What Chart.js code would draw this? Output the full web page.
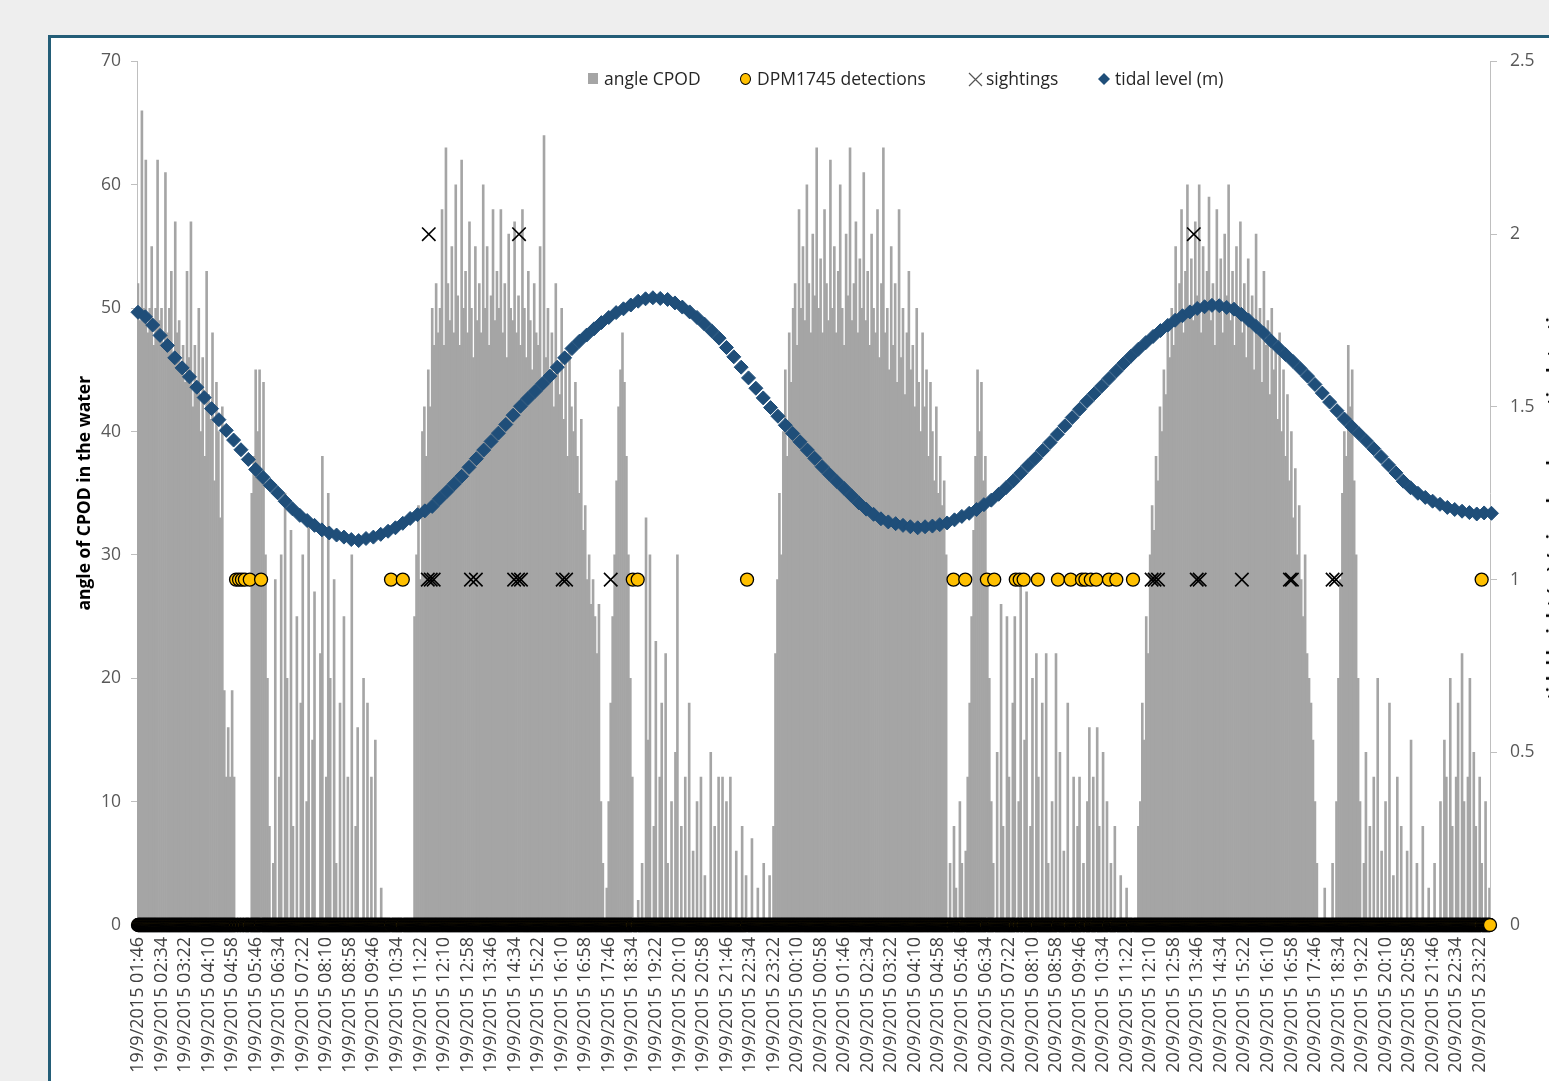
<!DOCTYPE html>
<html><head><meta charset="utf-8">
<script src="https://cdn.jsdelivr.net/npm/chart.js@4.4.1/dist/chart.umd.min.js"></script>
<style>
html,body{margin:0;padding:0;}
body{width:1549px;height:1081px;overflow:hidden;background:#EEEEEE;position:relative;font-family:'Open Sans',sans-serif;}
#frame{position:absolute;left:48px;top:35px;width:1700px;height:1200px;border:3px solid #235D77;background:#fff;}
#wrap{position:absolute;left:0;top:0;width:1640px;height:1060px;}
.mk{position:absolute;}
.lt{position:absolute;top:65px;font-size:17.5px;line-height:26px;color:#262626;white-space:nowrap;}
#rt{position:absolute;left:1553px;top:493px;transform:translate(-50%,-50%) rotate(-90deg);font-weight:bold;font-size:17.5px;white-space:nowrap;color:#000;}
</style></head>
<body>
<div id="frame"><div id="wrap"><canvas id="c"></canvas></div></div>
<div class="mk" style="left:588px;top:73px;width:10px;height:11px;background:#A5A5A5"></div>
<div class="lt" style="left:604px">angle CPOD</div>
<div class="mk" style="left:740px;top:73px;width:11px;height:12px;border:1px solid #000;border-radius:50%;background:#FFC000;box-sizing:border-box"></div>
<div class="lt" style="left:757px">DPM1745 detections</div>
<svg class="mk" style="left:968px;top:72px" width="15" height="15"><path d="M1 1 L14 14 M14 1 L1 14" stroke="#555" stroke-width="1.2"/></svg>
<div class="lt" style="left:986px">sightings</div>
<svg class="mk" style="left:1098px;top:73px" width="12" height="12"><polygon points="6,0 12,6 6,12 0,6" fill="#1F4E79"/></svg>
<div class="lt" style="left:1115px">tidal level (m)</div>
<div id="rt">tidal height (m) / visual and acoustic detections</div>
<script>
// ---- tick labels (every 48 min) ----
const tickLabels = [
 '19/9/2015 01:46','19/9/2015 02:34','19/9/2015 03:22','19/9/2015 04:10','19/9/2015 04:58','19/9/2015 05:46',
 '19/9/2015 06:34','19/9/2015 07:22','19/9/2015 08:10','19/9/2015 08:58','19/9/2015 09:46','19/9/2015 10:34',
 '19/9/2015 11:22','19/9/2015 12:10','19/9/2015 12:58','19/9/2015 13:46','19/9/2015 14:34','19/9/2015 15:22',
 '19/9/2015 16:10','19/9/2015 16:58','19/9/2015 17:46','19/9/2015 18:34','19/9/2015 19:22','19/9/2015 20:10',
 '19/9/2015 20:58','19/9/2015 21:46','19/9/2015 22:34','19/9/2015 23:22',
 '20/9/2015 00:10','20/9/2015 00:58','20/9/2015 01:46','20/9/2015 02:34','20/9/2015 03:22','20/9/2015 04:10',
 '20/9/2015 04:58','20/9/2015 05:46','20/9/2015 06:34','20/9/2015 07:22','20/9/2015 08:10','20/9/2015 08:58',
 '20/9/2015 09:46','20/9/2015 10:34','20/9/2015 11:22','20/9/2015 12:10','20/9/2015 12:58','20/9/2015 13:46',
 '20/9/2015 14:34','20/9/2015 15:22','20/9/2015 16:10','20/9/2015 16:58','20/9/2015 17:46','20/9/2015 18:34',
 '20/9/2015 19:22','20/9/2015 20:10','20/9/2015 20:58','20/9/2015 21:46','20/9/2015 22:34','20/9/2015 23:22'
];
const START_TIME = '19/9 01:46';
const END_TIME = '20/9 23:43';

// ---- angle CPOD, one value per 4 minutes from 19/9 01:46 ----
const ANGLE_STEP = 4;
const angleCPOD = [
 52,49,66,50,62,48,50,55,47,50,62,49,
 50,47,61,48,50,53,46,57,48,49,45,
 47,44,53,46,57,42,47,44,50,40,
 46,38,53,43,41,48,36,44,40,33,42,
 19,12,16,12,19,12,0,
 0,0,0,0,0,0,0,
 35,38,45,40,45,36,44,30,20,8,
 0,5,28,0,12,30,0,35,20,0,
 32,8,0,25,0,18,30,0,10,33,
 0,15,27,0,0,22,38,0,12,35,
 20,0,28,5,0,18,0,25,0,12,
 0,30,0,8,16,0,0,20,0,18,
 0,12,0,15,0,0,3,
 0,0,0,0,0,0,0,0,0,0,0,0,0,0,0,0,
 25,30,34,28,40,42,38,45,42,50,47,52,48,
 50,58,47,63,52,49,55,48,60,51,
 47,62,50,53,48,57,50,46,55,49,
 52,48,60,50,55,47,51,58,49,53,
 50,58,48,52,46,56,50,49,57,48,
 51,47,58,50,46,53,49,45,52,48,
 47,55,44,64,46,50,44,48,42,52,
 45,43,50,41,46,38,47,42,40,44,
 38,35,41,32,34,28,30,26,
 28,25,22,26,10,5,0,3,
 10,18,25,30,36,42,45,48,44,38,30,20,12,
 0,0,2,0,
 5,0,33,15,30,0,8,23,0,12,
 18,0,22,5,0,10,0,14,30,0,
 8,0,12,0,18,0,6,0,10,0,
 12,0,4,0,0,14,0,8,0,12,
 0,12,0,10,0,12,0,0,6,0,
 0,8,0,4,0,0,7,0,0,3,
 0,0,5,0,0,4,0,8,
 22,28,35,30,40,45,38,48,44,50,
 52,47,58,50,55,49,60,52,48,56,
 51,63,50,54,48,58,52,49,62,50,
 55,48,53,60,50,47,56,51,63,49,
 52,57,48,54,50,61,49,53,47,56,
 50,48,58,46,52,63,48,50,45,55,
 47,52,44,58,46,50,43,48,53,45,
 47,42,50,44,40,48,42,45,38,44,
 40,36,42,35,38,34,36,30,
 0,5,0,8,3,0,10,5,0,6,12,18,25,
 32,38,45,40,44,36,38,28,20,10,
 5,0,14,0,26,8,0,25,12,0,
 18,25,0,10,28,0,15,27,0,8,
 20,0,22,12,0,18,0,22,5,0,
 10,0,22,0,14,0,6,0,18,0,
 0,12,0,8,12,0,5,0,10,16,
 0,12,0,16,8,0,14,0,10,0,
 5,0,8,0,0,4,0,0,3,0,
 0,0,0,0,
 8,10,18,15,25,22,30,34,32,38,36,42,40,45,43,48,46,
 50,47,55,49,52,58,48,53,60,50,
 54,49,57,51,60,48,55,50,53,59,
 49,52,47,58,50,54,48,56,51,60,
 49,53,47,55,50,57,48,52,46,54,
 49,51,45,56,48,50,44,53,47,49,
 43,50,45,47,41,48,40,45,38,43,
 36,40,33,37,30,34,
 28,25,30,22,20,18,15,10,5,0,
 0,0,3,0,0,0,5,0,10,20,
 28,35,40,38,47,42,45,36,30,20,
 10,0,5,14,0,8,0,12,0,20,
 0,6,0,10,0,18,0,4,0,12,
 0,8,0,0,6,0,15,0,0,5,
 0,0,8,0,0,3,0,0,5,0,0,
 10,0,15,12,0,20,8,0,12,18,
 0,22,10,0,12,20,0,14,8,0,
 12,5,0,10,0,3,0
];

// ---- tidal level (m), one value per 15 minutes from 19/9 01:46 ----
const TIDE_STEP = 15;
const tidalLevel = [
 1.774,1.761,1.737,1.707,1.678,1.642,1.613,1.587,1.557,1.527,
 1.495,1.463,1.432,1.404,1.376,1.348,1.319,1.296,1.273,1.251,
 1.227,1.205,1.186,1.171,1.157,1.144,1.135,1.129,1.123,1.116,
 1.113,1.119,1.123,1.131,1.140,1.150,1.163,1.177,1.188,1.199,
 1.212,1.234,1.255,1.277,1.299,1.325,1.350,1.375,1.400,1.424,
 1.449,1.476,1.502,1.524,1.545,1.567,1.589,1.615,1.642,1.669,
 1.690,1.708,1.726,1.744,1.759,1.773,1.784,1.795,1.806,1.813,
 1.816,1.814,1.811,1.801,1.789,1.775,1.759,1.740,1.720,1.699,
 1.672,1.645,1.615,1.584,1.554,1.526,1.498,1.473,1.447,1.423,
 1.399,1.375,1.351,1.327,1.305,1.284,1.264,1.243,1.222,1.204,
 1.189,1.176,1.167,1.162,1.157,1.153,1.150,1.153,1.155,1.159,
 1.164,1.173,1.183,1.192,1.203,1.217,1.230,1.247,1.266,1.286,
 1.308,1.330,1.351,1.374,1.397,1.421,1.445,1.469,1.493,1.516,
 1.538,1.560,1.582,1.604,1.626,1.647,1.667,1.686,1.704,1.721,
 1.736,1.751,1.764,1.775,1.785,1.790,1.794,1.793,1.788,1.783,
 1.768,1.751,1.733,1.714,1.692,1.672,1.652,1.632,1.611,1.589,
 1.565,1.540,1.514,1.489,1.465,1.443,1.422,1.401,1.379,1.356,
 1.332,1.309,1.285,1.266,1.250,1.238,1.227,1.218,1.209,1.203,
 1.198,1.194,1.190,1.193,1.192
];

// ---- DPM1745 acoustic detections (value 1); every other minute = 0 ----
const dpmDetections = [
 '19/9 05:06','19/9 05:12','19/9 05:18','19/9 05:24','19/9 05:34','19/9 05:57',
 '19/9 10:22','19/9 10:46','19/9 18:35','19/9 18:45','19/9 22:28',
 '20/9 05:29','20/9 05:53','20/9 06:37','20/9 06:52','20/9 07:36','20/9 07:44','20/9 07:52',
 '20/9 08:21','20/9 09:02','20/9 09:28','20/9 09:51','20/9 09:58','20/9 10:09','20/9 10:20',
 '20/9 10:46','20/9 11:01','20/9 11:35','20/9 23:26'
];

// ---- visual sightings ----
const sightingTimes = [
 '19/9 11:37','19/9 11:43','19/9 11:49','19/9 13:05','19/9 13:15','19/9 14:33','19/9 14:41','19/9 14:47',
 '19/9 16:12','19/9 16:19','19/9 17:50','20/9 12:13','20/9 12:19','20/9 12:26','20/9 13:45','20/9 13:51',
 '20/9 15:17','20/9 16:55','20/9 16:59','20/9 18:22','20/9 18:29',
 '19/9 11:39','19/9 14:43','20/9 13:39'
];
const sightingValues = [
 1,1,1,1,1,1,1,1,1,1,1,1,1,1,1,1,1,1,1,1,1,
 2,2,2
];

// ---- helpers ----
function dayMin(s){
  const [d,t] = s.split(' ');
  const day = parseInt(d.split('/')[0],10);
  const [hh,mm] = t.split(':').map(Number);
  return (day-19)*1440 + hh*60 + mm;
}
const T0 = dayMin(START_TIME);
const toMin = s => dayMin(s) - T0;
const END_MIN = toMin(END_TIME);
const tickMinutes = tickLabels.map(l => { const p = l.split(' '); return toMin(p[0].slice(0,p[0].lastIndexOf('/')) + ' ' + p[1]); });

const barData = angleCPOD.map((v,i)=>({x:i*ANGLE_STEP, y:v}));
const tideData = tidalLevel.map((v,i)=>({x:i*TIDE_STEP, y:v}));
const detSet = new Set(dpmDetections.map(toMin));
const dpmData = [];
for (let m=0; m<=END_MIN; m++) dpmData.push({x:m, y: detSet.has(m)?1:0});
const sightData = sightingTimes.map((t,i)=>({x:toMin(t), y:sightingValues[i]}));

const FONT = 'Open Sans';
new Chart(document.getElementById('c'), {
  type:'bar',
  data:{datasets:[
    {type:'line', label:'DPM1745 detections', data:dpmData, yAxisID:'y1', showLine:false, pointStyle:'circle',
     pointRadius:6.5, pointBackgroundColor:'#FFC000', pointBorderColor:'#000', pointBorderWidth:1.3, order:1, clip:false},
    {type:'line', label:'sightings', data:sightData, yAxisID:'y1', showLine:false, pointStyle:'crossRot',
     pointRadius:9.5, pointBorderColor:'#000', pointBackgroundColor:'#000', pointBorderWidth:1.6, order:2, clip:false},
    {type:'line', label:'tidal level (m)', data:tideData, yAxisID:'y1', showLine:false, pointStyle:'rectRot',
     pointRadius:7, pointBackgroundColor:'#1F4E79', pointBorderColor:'#1F4E79', pointBorderWidth:1, order:3, clip:false},
    {type:'bar', label:'angle CPOD', data:barData, yAxisID:'y', backgroundColor:'#A5A5A5',
     barPercentage:1, categoryPercentage:1, order:4}
  ]},
  options:{
    responsive:true, maintainAspectRatio:false, animation:false, events:[],
    layout:{padding:{top:23,left:0,right:0,bottom:0}},
    plugins:{legend:{display:false}, tooltip:{enabled:false}},
    scales:{
      x:{type:'linear', min:-2, max:END_MIN, offset:false,
         grid:{display:false, drawTicks:false}, border:{display:false},
         afterBuildTicks:s=>{ s.ticks = tickMinutes.map(v=>({value:v})); },
         afterFit:s=>{ s.height = 173; },
         ticks:{autoSkip:false, maxRotation:90, minRotation:90, padding:12, color:'#404040',
                font:{family:FONT, size:18}, callback:(v,i)=>tickLabels[i]}},
      y:{position:'left', min:0, max:70,
         afterFit:s=>{ s.width = 86; },
         grid:{display:true, drawOnChartArea:false, drawTicks:true, tickLength:6, color:'#BFBFBF'},
         border:{display:true, color:'#BFBFBF'},
         ticks:{stepSize:10, padding:10, color:'#595959', font:{family:FONT, size:17.5}},
         title:{display:true, text:'angle of CPOD in the water', color:'#000',
                font:{family:FONT, size:17.5, weight:'bold'}, padding:{top:24,bottom:0}}},
      y1:{position:'right', min:0, max:2.5,
         afterFit:s=>{ s.width = 201; },
         grid:{display:true, drawOnChartArea:false, drawTicks:true, tickLength:7, color:'#BFBFBF'},
         border:{display:true, color:'#BFBFBF'},
         ticks:{stepSize:0.5, padding:13, color:'#595959', font:{family:FONT, size:17.5},
                callback:v=>String(Math.round(v*10)/10)}}
    }
  }
});
</script>
</body></html>
